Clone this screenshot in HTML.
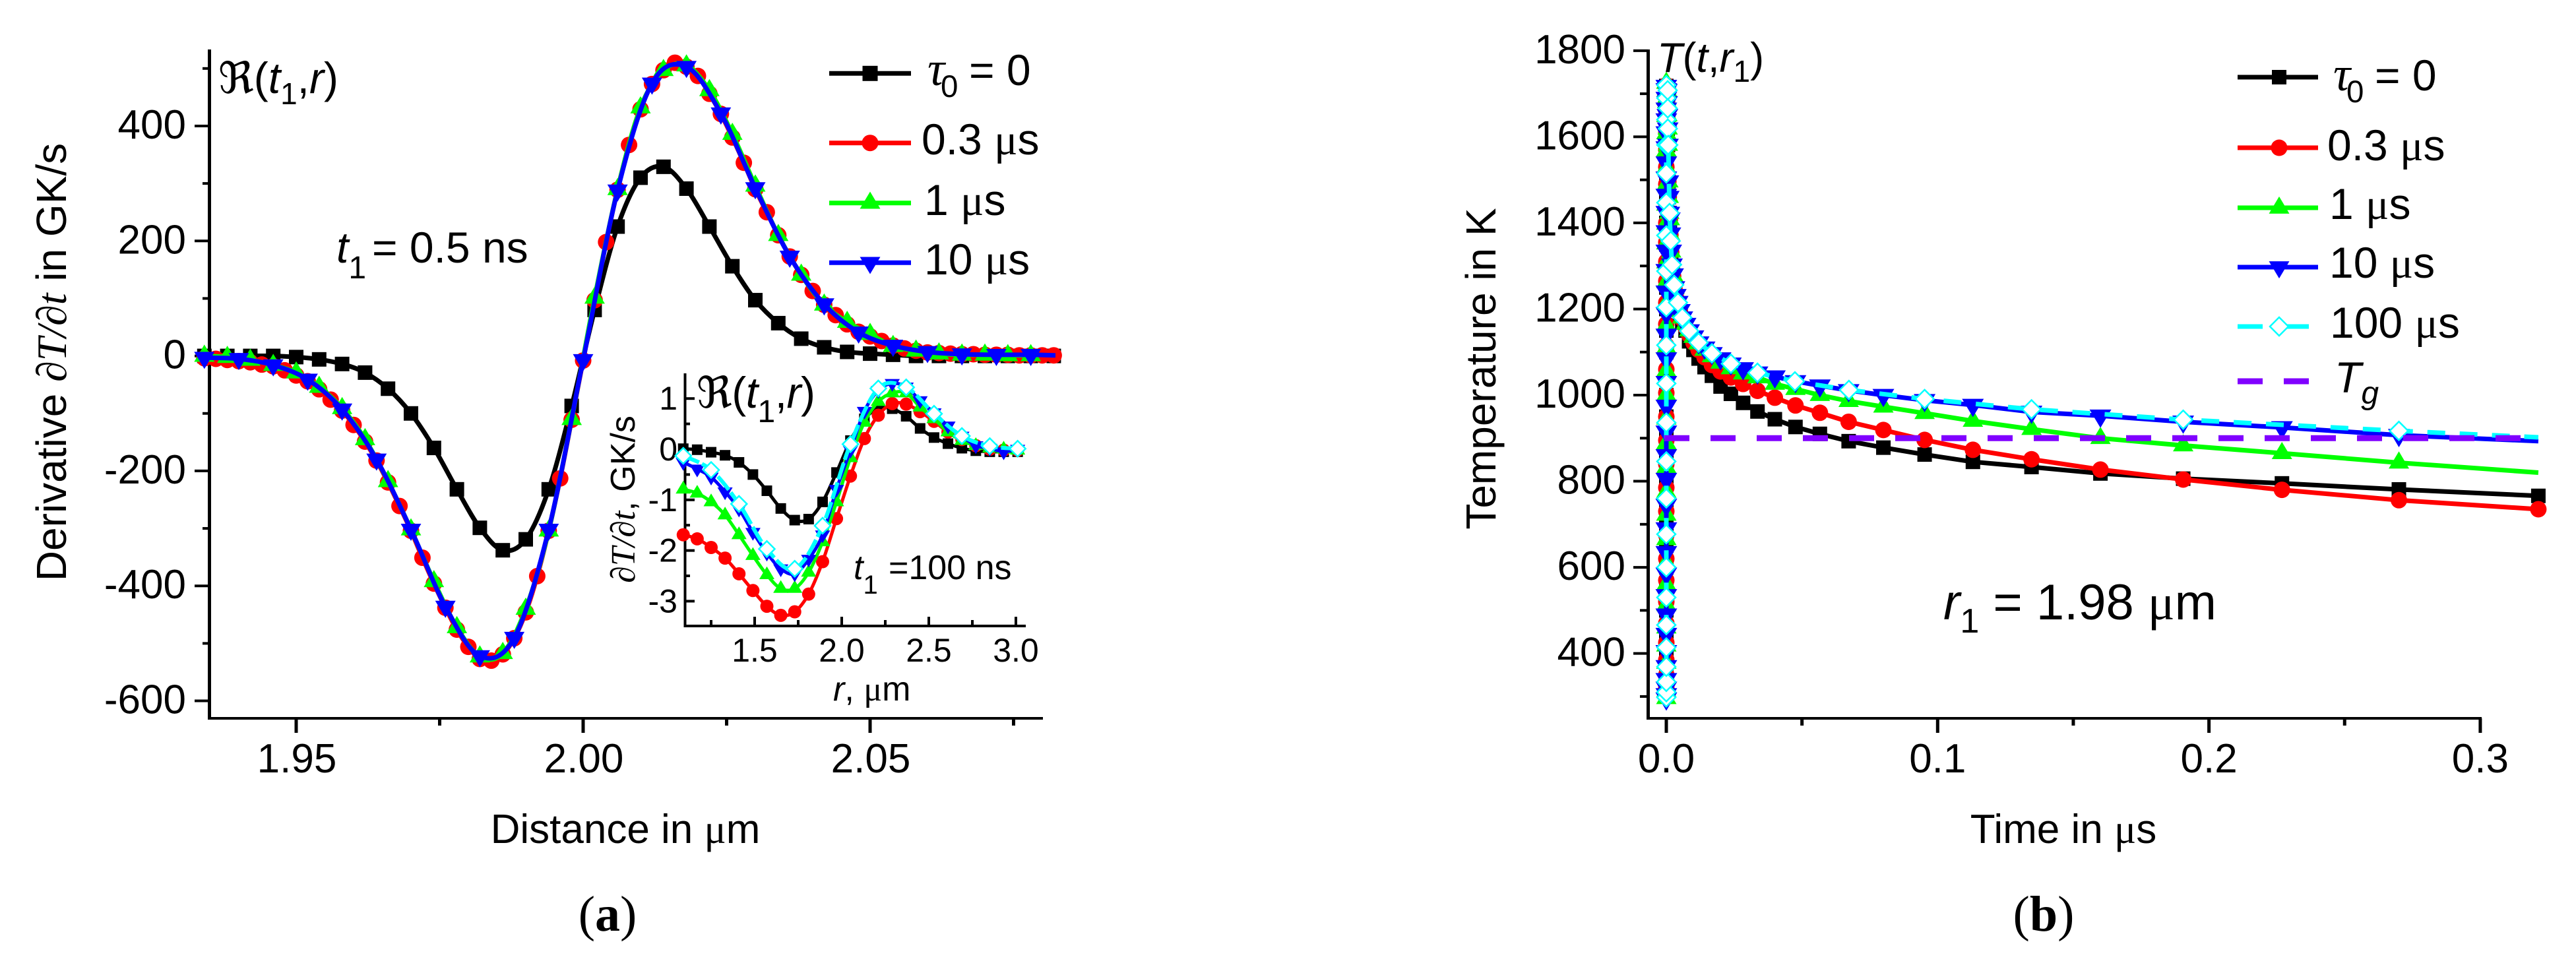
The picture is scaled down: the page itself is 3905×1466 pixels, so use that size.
<!DOCTYPE html>
<html lang="en">
<head>
<meta charset="utf-8">
<title>Derivative and temperature charts</title>
<style>
html,body{margin:0;padding:0;background:#fff;}
svg{display:block;}
text{font-family:"Liberation Sans",sans-serif;fill:#000;}
.it{font-style:italic;}
.sr{font-family:"Liberation Serif",serif;}
.fr{font-family:"DejaVu Serif","Liberation Serif",serif;}
</style>
</head>
<body>
<svg id="fig" xmlns="http://www.w3.org/2000/svg" width="3905" height="1466" viewBox="0 0 3905 1466">
<rect x="0" y="0" width="3905" height="1466" fill="#fff"/>
<g id="layerA"></g>
<g id="layerInset"></g>
<g id="layerB"></g>

<text transform="translate(100,549) rotate(-90)" text-anchor="middle" font-size="64">Derivative <tspan class="sr it">∂T/∂t</tspan> in GK/s</text>
<text x="948" y="1278" text-anchor="middle" font-size="62">Distance in <tspan class="sr">μ</tspan>m</text>
<text x="331" y="141" font-size="66"><tspan class="fr">ℜ</tspan>(<tspan class="it">t</tspan><tspan font-size="46" dy="17">1</tspan><tspan dy="-17">,</tspan><tspan class="it">r</tspan>)</text>
<text x="510" y="398" font-size="66"><tspan class="it">t</tspan><tspan font-size="48" dy="24">1</tspan><tspan x="564" dy="-24">= 0.5 ns</tspan></text>
<text x="921" y="1411" text-anchor="middle" font-size="76" class="sr">(<tspan font-weight="bold">a</tspan>)</text>

<text transform="translate(962,757) rotate(-90)" text-anchor="middle" font-size="52"><tspan class="sr it">∂T/∂t</tspan>, GK/s</text>
<text x="1263" y="1062" font-size="52"><tspan class="it">r</tspan>, <tspan class="sr">μ</tspan>m</text>
<text x="1056" y="618" font-size="66" textLength="180" lengthAdjust="spacing"><tspan class="fr">ℜ</tspan>(<tspan class="it">t</tspan><tspan font-size="48" dy="22">1</tspan><tspan dy="-22">,</tspan><tspan class="it">r</tspan>)</text>
<text x="1294" y="878" font-size="52"><tspan class="it">t</tspan><tspan font-size="40" dy="22">1</tspan><tspan x="1347" dy="-22">=100 ns</tspan></text>

<text transform="translate(2267,559) rotate(-90)" text-anchor="middle" font-size="64">Temperature in K</text>
<text x="3128" y="1278" text-anchor="middle" font-size="62">Time in <tspan class="sr">μ</tspan>s</text>
<text x="2512" y="109" font-size="63"><tspan class="it">T</tspan>(<tspan class="it">t</tspan>,<tspan class="it">r</tspan><tspan font-size="46" dy="15">1</tspan><tspan dy="-15">)</tspan></text>
<text x="2946" y="939" font-size="76"><tspan class="it">r</tspan><tspan font-size="52" dy="20">1</tspan><tspan dy="-20"> = 1.98 </tspan><tspan class="sr">μ</tspan>m</text>
<text x="3098" y="1411" text-anchor="middle" font-size="76" class="sr">(<tspan font-weight="bold">b</tspan>)</text>
</svg>

<script>
// ---------- Panel (a): main axes data ----------
const aTickLabelsY = [400, 200, 0, -200, -400, -600];
const aMinorTicksY = [500, 300, 100, -100, -300, -500];
const aTickLabelsX = ["1.95", "2.00", "2.05"];
const aMinorTicksX = [1.975, 2.025, 2.075];

const aBlackDist = [1.934,1.938,1.942,1.946,1.950,1.954,1.958,1.962,1.966,1.970,1.974,1.978,1.982,1.986,1.990,1.994,1.998,2.002,2.006,2.010,2.014,2.018,2.022,2.026,2.030,2.034,2.038,2.042,2.046,2.050,2.054,2.058,2.062,2.066,2.070,2.074,2.078,2.082];
const aBlackVal = [0,0,0,0,-2,-6,-14,-29,-57,-100,-160,-232,-299,-338,-319,-232,-87,80,225,310,329,291,225,156,97,57,30,15,7,4,2,0,0,0,0,0,0,0];

const aRedDist = [1.934,1.936,1.938,1.940,1.942,1.944,1.946,1.948,1.950,1.952,1.954,1.956,1.958,1.960,1.962,1.964,1.966,1.968,1.970,1.972,1.974,1.976,1.978,1.980,1.982,1.984,1.986,1.988,1.990,1.992,1.994,1.996,1.998,2.000,2.002,2.004,2.006,2.008,2.010,2.012,2.014,2.016,2.018,2.020,2.022,2.024,2.026,2.028,2.030,2.032,2.034,2.036,2.038,2.040,2.042,2.044,2.046,2.048,2.050,2.052,2.054,2.056,2.058,2.060,2.062,2.064,2.066,2.068,2.070,2.072,2.074,2.076,2.078,2.080,2.082];
const aRedVal = [-4,-5,-7,-9,-11,-15,-18,-25,-34,-44,-58,-76,-95,-120,-149,-182,-220,-261,-304,-351,-396,-438,-476,-506,-527,-530,-519,-491,-446,-383,-304,-213,-111,-8,97,198,289,367,429,473,497,510,503,487,456,421,380,336,290,250,210,173,141,113,89,71,55,42,34,26,18,13,9,6,5,4,3,3,2,2,2,1,1,1,1];

const aGreenDist = [1.934,1.938,1.942,1.946,1.950,1.954,1.958,1.962,1.966,1.970,1.974,1.978,1.982,1.986,1.990,1.994,1.998,2.002,2.006,2.010,2.014,2.018,2.022,2.026,2.030,2.034,2.038,2.042,2.046,2.050,2.054,2.058,2.062,2.066,2.070,2.074,2.078];
const aGreenVal = [0,-2,-7,-16,-29,-54,-91,-145,-218,-302,-392,-472,-523,-517,-440,-304,-110,101,290,432,497,505,462,386,296,210,141,89,59,38,17,9,4,2,2,1,1];

const aBlueDist = [1.934,1.940,1.946,1.952,1.958,1.964,1.970,1.976,1.982,1.988,1.994,2.000,2.006,2.012,2.018,2.024,2.030,2.036,2.042,2.048,2.054,2.060,2.066,2.072,2.078,2.0823];
const aBlueVal = [-3,-5,-16,-41,-93,-180,-302,-436,-522,-490,-302,-7,288,474,503,422,292,173,90,41,18,7,3,2,2,1];

// ---------- Panel (a): inset data ----------
const inTickLabelsY = [1, 0, -1, -2, -3];
const inMinorTicksY = [0.5, -0.5, -1.5, -2.5];
const inTickLabelsX = ["1.5", "2.0", "2.5", "3.0"];
const inMinorTicksX = [1.25, 1.75, 2.25, 2.75];

const inDist = [1.09,1.17,1.25,1.33,1.41,1.49,1.57,1.65,1.73,1.81,1.89,1.97,2.05,2.13,2.21,2.29,2.37,2.45,2.53,2.61,2.69,2.77,2.85,2.93,3.01];
const inBlack = [0.01,-0.01,-0.06,-0.12,-0.26,-0.5,-0.82,-1.17,-1.4,-1.38,-1.04,-0.46,0.17,0.6,0.8,0.8,0.65,0.41,0.23,0.11,0.02,-0.03,-0.05,-0.05,-0.05];
const inRed = [-1.69,-1.77,-1.94,-2.15,-2.46,-2.79,-3.1,-3.28,-3.21,-2.86,-2.22,-1.37,-0.53,0.21,0.67,0.9,0.89,0.74,0.55,0.34,0.19,0.07,0,-0.02,-0.02];
const inGreen = [-0.79,-0.87,-1.04,-1.3,-1.69,-2.1,-2.48,-2.75,-2.75,-2.43,-1.83,-1.04,-0.17,0.53,0.94,1.11,1.11,0.83,0.6,0.34,0.17,0.07,0.02,0,-0.02];
const inBlue = [-0.26,-0.39,-0.55,-0.84,-1.18,-1.64,-2.05,-2.36,-2.46,-2.17,-1.69,-0.79,-0.02,0.75,1.16,1.3,1.23,0.96,0.72,0.46,0.26,0.07,0.02,-0.05,0];
const inCyanDist = [1.09,1.25,1.41,1.57,1.73,1.89,2.05,2.21,2.37,2.53,2.69,2.85,3.01];
const inCyan = [-0.13,-0.41,-1.08,-1.97,-2.36,-1.51,0.1,1.2,1.22,0.7,0.26,0.06,0.01];

// ---------- Panel (b) data ----------
const bTickLabelsY = [400,600,800,1000,1200,1400,1600,1800];
const bMinorTicksY = [300,500,700,900,1100,1300,1500,1700];
const bTickLabelsX = ["0.0","0.1","0.2","0.3"];
const bMajorTicksX = [0,0.1,0.2,0.3];
const bMinorTicksX = [0.05,0.15,0.25];
const bGlass = [900];

const bHeatBlack = [300,330,365,405,450,500,550,600,650,700,750,800,850,900,950,1000,1050,1100,1150,1200,1250,1300,1350,1400,1450,1500,1550,1600,1650,1700,1718];
const bHeatRed = [300,320,350,385,425,470,520,570,620,675,730,785,840,895,950,1005,1060,1115,1165,1215,1265,1310,1355,1400,1445,1490,1530,1570,1610,1650,1690,1720];
const bHeatGreen = [296,312,345,378,418,460,512,560,610,665,722,775,832,888,945,1000,1056,1110,1162,1212,1262,1308,1352,1398,1442,1488,1528,1568,1608,1648,1688,1725];
const bHeatBlue = [295,305,320,340,370,405,445,490,535,585,635,690,745,805,860,915,975,1030,1085,1140,1190,1240,1290,1335,1380,1425,1465,1505,1540,1575,1610,1640,1665,1690,1710,1718];
const bHeatCyan = [298,310,334,369,414,466,530,600,677,760,846,936,1027,1116,1204,1288,1371,1447,1515,1581,1640,1690,1720];

const bTime = [0.0002,0.0003,0.0004,0.0005,0.0006,0.00075,0.0009,0.0011,0.0013,0.0015,0.0018,0.0021,0.0025,0.003,0.0035,0.0042,0.005,0.0059,0.0071,0.0084,0.01,0.0119,0.0141,0.0168,0.02,0.0238,0.0283,0.0336,0.04,0.0476,0.0566,0.0672,0.08,0.0952,0.113,0.1346,0.16,0.1905,0.2269,0.27,0.3214];
const bCoolBlack = [1708,1680,1650,1619,1581,1496,1460,1423,1405,1370,1330,1298,1272,1245,1225,1205,1190,1170,1150,1125,1105,1085,1065,1045,1020,1003,982,962,944,926,910,893,878,862,845,833,818,806,795,781,766];
const bCoolRed = [1708,1680,1650,1619,1581,1496,1460,1423,1408,1372,1332,1300,1276,1248,1228,1210,1195,1177,1158,1140,1122,1105,1088,1070,1055,1041,1026,1010,994,976,959,938,919,896,873,851,827,804,780,756,735];
const bCoolGreen = [1708,1680,1650,1619,1581,1496,1460,1423,1408,1372,1333,1301,1278,1248,1230,1213,1195,1180,1165,1150,1135,1120,1105,1090,1075,1062,1050,1041,1026,1014,1000,986,973,958,940,921,900,883,865,843,820];
const bCoolBlue = [1708,1680,1650,1619,1581,1496,1460,1423,1410,1375,1335,1303,1280,1250,1232,1216,1197,1180,1165,1150,1136,1122,1110,1097,1085,1073,1062,1052,1043,1032,1022,1011,1000,988,977,961,952,938,925,907,893];
const bCyanTime = [0.0005,0.00052,0.00055,0.0007,0.0012,0.0016,0.0021,0.0029,0.0043,0.0059,0.0084,0.0119,0.0168,0.0238,0.0336,0.0474,0.0673,0.0952,0.1346,0.1905,0.27,0.3214];
const bCoolCyan = [1708,1666,1619,1581,1423,1358,1303,1256,1215,1180,1149,1122,1097,1073,1052,1032,1012,991,967,943,917,902];

// ---------- Legends ----------
const aLegendLabels = ["τ0 = 0","0.3 μs","1 μs","10 μs"];
const bLegendLabels = ["τ0 = 0","0.3 μs","1 μs","10 μs","100 μs"];

const SVGNS = "http://www.w3.org/2000/svg";
function mk(parent, tag, attrs){
  const e = document.createElementNS(SVGNS, tag);
  for (const k in attrs) e.setAttribute(k, attrs[k]);
  parent.appendChild(e);
  return e;
}
const COLORS = {square:"#000000", circle:"#ff0000", up:"#00ff00", down:"#0000ff", diamond:"#00ffff"};

function drawMarker(g, kind, x, y, s){
  let m;
  if (kind === "square") {
    m = mk(g, "rect", {x:x-s/2, y:y-s/2, width:s, height:s, fill:COLORS.square});
  } else if (kind === "circle") {
    m = mk(g, "circle", {cx:x, cy:y, r:s/2, fill:COLORS.circle});
  } else if (kind === "up") {
    const h = s*0.84;
    m = mk(g, "polygon", {points:`${x},${y-h*0.66} ${x+s/2},${y+h*0.34} ${x-s/2},${y+h*0.34}`, fill:COLORS.up});
  } else if (kind === "down") {
    const h = s*0.84;
    m = mk(g, "polygon", {points:`${x},${y+h*0.66} ${x+s/2},${y-h*0.34} ${x-s/2},${y-h*0.34}`, fill:COLORS.down});
  } else {
    m = mk(g, "polygon", {points:`${x},${y-s/2} ${x+s/2},${y} ${x},${y+s/2} ${x-s/2},${y}`, fill:"#ffffff", stroke:COLORS.diamond, "stroke-width":2.5});
  }
  
  
  return m;
}
function smoothPath(pts){
  let d = `M${pts[0][0]},${pts[0][1]}`;
  for (let i=0;i<pts.length-1;i++){
    const p0=pts[Math.max(i-1,0)],p1=pts[i],p2=pts[i+1],p3=pts[Math.min(i+2,pts.length-1)];
    const c1x=p1[0]+(p2[0]-p0[0])/6,c1y=p1[1]+(p2[1]-p0[1])/6;
    const c2x=p2[0]-(p3[0]-p1[0])/6,c2y=p2[1]-(p3[1]-p1[1])/6;
    d+=`C${c1x.toFixed(1)},${c1y.toFixed(1)} ${c2x.toFixed(1)},${c2y.toFixed(1)} ${p2[0].toFixed(1)},${p2[1].toFixed(1)}`;
  }
  return d;
}
function straightPath(pts){
  return "M"+pts.map(p=>p[0].toFixed(1)+","+p[1].toFixed(1)).join("L");
}
function drawSeries(parent, name, kind, pts, o){
  const g = mk(parent, "g", {});
  
  
  const attrs = {d:o.smooth?smoothPath(pts):straightPath(pts), fill:"none", stroke:COLORS[kind], "stroke-width":o.lw, "stroke-linejoin":"round"};
  if (o.dash) attrs["stroke-dasharray"] = o.dash;
  const line = mk(g, "path", attrs);
  
  
  const mPts = o.markerPts || pts;
  const n = o.skipLast ? mPts.length-1 : mPts.length;
  for (let i=0;i<n;i++) drawMarker(g, kind, mPts[i][0], mPts[i][1], o.size);
}
function axisLine(g,name,x1,y1,x2,y2,w){
  const l = mk(g,"line",{x1:x1,y1:y1,x2:x2,y2:y2,stroke:"#000","stroke-width":w});
  
  
  return l;
}
function label(g,name,x,y,txt,size,anchor){
  const t = mk(g,"text",{x:x,y:y,"font-size":size,"text-anchor":anchor});
  t.textContent = txt;
  
  
  return t;
}
function legendText(g,x,y,txt,size){
  const t = mk(g,"text",{x:x,y:y,"font-size":size});
  
  
  if (txt.charAt(0)==="τ"){
    const a = mk(t,"tspan",{"class":"sr it","font-size":size*1.1}); a.textContent="τ";
    const b = mk(t,"tspan",{"font-size":size*0.72,x:x+20,dy:18}); b.textContent="0";
    const c = mk(t,"tspan",{x:x+63,dy:-18}); c.textContent=txt.slice(3);
  } else {
    const p = txt.split("μ");
    const a = mk(t,"tspan",{}); a.textContent=p[0];
    const b = mk(t,"tspan",{"class":"sr"}); b.textContent="μ";
    const c = mk(t,"tspan",{}); c.textContent=p[1];
  }
}
function zip(xs,ys,fx,fy){ return xs.map((v,i)=>[fx(v),fy(ys[i])]); }

// ---------- Panel (a) ----------
const layerA = document.getElementById("layerA");
const xA = v => 884 + (v-2)*8700;
const yA = v => 539.6 - v*0.8716;
axisLine(layerA,"panel-a-y-axis",317.5,75,317.5,1091,5);
axisLine(layerA,"panel-a-x-axis",315,1089,1581,1089,4);
aTickLabelsY.forEach(v=>{
  axisLine(layerA,"y-tick",295,yA(v),318,yA(v),4);
  label(layerA,"y-tick-label",282,yA(v)+19,String(v),62,"end");
});
aMinorTicksY.forEach(v=>axisLine(layerA,"y-minor-tick",307,yA(v),318,yA(v),4));
aTickLabelsX.forEach(s=>{
  const v = parseFloat(s);
  axisLine(layerA,"x-tick",xA(v),1089,xA(v),1111,5);
  label(layerA,"x-tick-label",xA(v)+1,1171,s,62,"middle");
});
aMinorTicksX.forEach(v=>axisLine(layerA,"x-minor-tick",xA(v),1089,xA(v),1100,5));
drawSeries(layerA,"series-tau-0","square",zip(aBlackDist,aBlackVal,xA,yA),{smooth:true,lw:7,size:22});
drawSeries(layerA,"series-0-3-us","circle",zip(aRedDist,aRedVal,xA,yA),{smooth:true,lw:7,size:25});
drawSeries(layerA,"series-1-us","up",zip(aGreenDist,aGreenVal,xA,yA),{smooth:true,lw:7,size:31});
drawSeries(layerA,"series-10-us","down",zip(aBlueDist,aBlueVal,xA,yA),{smooth:true,lw:7,size:31,skipLast:true});

const aLegendY = [111.3,216.7,307.7,398.3];
const aLegendBase = [129,234,326,416];
const aLegendTextX = [1406,1397,1401,1401];
const legendKinds = ["square","circle","up","down","diamond"];
aLegendLabels.forEach((s,i)=>{
  const g = mk(layerA,"g",{});
  
  
  const k = legendKinds[i];
  mk(g,"line",{x1:1257,y1:aLegendY[i],x2:1381,y2:aLegendY[i],stroke:COLORS[k],"stroke-width":7});
  drawMarker(g,k,1319,aLegendY[i],k==="square"?23:k==="circle"?25:31);
  legendText(g,aLegendTextX[i],aLegendBase[i],s,66);
});

// ---------- Inset ----------
const layerI = document.getElementById("layerInset");
const xI = v => 1144 + (v-1.5)*264;
const yI = v => 681 - v*76.8;
axisLine(layerI,"inset-y-axis",1038.5,566,1038.5,951,4);
axisLine(layerI,"inset-x-axis",1037,949,1555,949,4);
inTickLabelsY.forEach(v=>{
  axisLine(layerI,"inset-y-tick",1038,yI(v),1053,yI(v),4);
  label(layerI,"inset-y-tick-label",1027,yI(v)+17,String(v),50,"end");
});
inMinorTicksY.forEach(v=>axisLine(layerI,"inset-y-minor-tick",1038,yI(v),1046,yI(v),4));
inTickLabelsX.forEach(s=>{
  const v = parseFloat(s);
  axisLine(layerI,"inset-x-tick",xI(v),949,xI(v),935,4);
  label(layerI,"inset-x-tick-label",xI(v),1003,s,50,"middle");
});
inMinorTicksX.forEach(v=>axisLine(layerI,"inset-x-minor-tick",xI(v),949,xI(v),940,4));
drawSeries(layerI,"inset-series-tau-0","square",zip(inDist,inBlack,xI,yI),{smooth:true,lw:5,size:16});
drawSeries(layerI,"inset-series-0-3-us","circle",zip(inDist,inRed,xI,yI),{smooth:true,lw:5,size:20});
drawSeries(layerI,"inset-series-1-us","up",zip(inDist,inGreen,xI,yI),{smooth:true,lw:5,size:23});
drawSeries(layerI,"inset-series-10-us","down",zip(inDist,inBlue,xI,yI),{smooth:true,lw:5,size:23});
drawSeries(layerI,"inset-series-100-us","diamond",zip(inCyanDist,inCyan,xI,yI),{smooth:true,lw:6,size:24,dash:"26 5"});

// ---------- Panel (b) ----------
const layerB = document.getElementById("layerB");
const xB = v => 2526 + v*4113;
const yB = v => 1055.9 - (v-300)*0.6527;
axisLine(layerB,"panel-b-y-axis",2498.5,75,2498.5,1091,5);
axisLine(layerB,"panel-b-x-axis",2496,1089,3762,1089,4);
bTickLabelsY.forEach(v=>{
  axisLine(layerB,"y-tick",2476,yB(v),2498,yB(v),4);
  label(layerB,"y-tick-label",2464,yB(v)+19,String(v),62,"end");
});
bMinorTicksY.forEach(v=>axisLine(layerB,"y-minor-tick",2486,yB(v),2498,yB(v),4));
bMajorTicksX.forEach((v,i)=>{
  axisLine(layerB,"x-tick",xB(v),1089,xB(v),1111,5);
  label(layerB,"x-tick-label",xB(v),1171,bTickLabelsX[i],62,"middle");
});
bMinorTicksX.forEach(v=>axisLine(layerB,"x-minor-tick",xB(v),1089,xB(v),1100,5));

function bPts(heat,time,cool){
  const h = heat.map(v=>[xB(0),yB(v)]);
  const c = time.map((t,i)=>[xB(t),yB(cool[i])]);
  return h.concat(c);
}
drawSeries(layerB,"series-b-tau-0","square",bPts(bHeatBlack,bTime,bCoolBlack),{lw:7,size:22});
drawSeries(layerB,"series-b-0-3-us","circle",bPts(bHeatRed,bTime,bCoolRed),{lw:7,size:25});
drawSeries(layerB,"series-b-1-us","up",bPts(bHeatGreen,bTime,bCoolGreen),{lw:7,size:31,skipLast:true});
drawSeries(layerB,"series-b-10-us","down",bPts(bHeatBlue,bTime,bCoolBlue),{lw:7,size:33,skipLast:true});
drawSeries(layerB,"series-b-100-us","diamond",bPts(bHeatCyan,bCyanTime,bCoolCyan),{lw:7,size:28,dash:"27 22",skipLast:true});

const tg = mk(layerB,"line",{x1:2523,y1:yB(bGlass[0]),x2:3850,y2:yB(bGlass[0]),stroke:"#8000ff","stroke-width":9,"stroke-dasharray":"38 32"});



const bLegendY = [117,224,315,405,495];
const bLegendBase = [137,243,332,421,512];
const bLegendTextX = [3537,3528,3531,3531,3532];
bLegendLabels.forEach((s,i)=>{
  const g = mk(layerB,"g",{});
  
  
  const k = legendKinds[i];
  const a = {x1:3392,y1:bLegendY[i],x2:3514,y2:bLegendY[i],stroke:COLORS[k],"stroke-width":7};
  if (k==="diamond") a["stroke-dasharray"]="38 32";
  mk(g,"line",a);
  drawMarker(g,k,3455,bLegendY[i],k==="square"?22:k==="circle"?25:k==="diamond"?28:31);
  legendText(g,bLegendTextX[i],bLegendBase[i],s,66);
});
const tgLeg = mk(layerB,"g",{});


mk(tgLeg,"line",{x1:3392,y1:578,x2:3502,y2:578,stroke:"#8000ff","stroke-width":9,"stroke-dasharray":"38 32"});
const tgT = mk(tgLeg,"text",{x:3539,y:595,"font-size":66,"class":"it"});
tgT.textContent = "T";
const tgS = mk(tgT,"tspan",{"font-size":48,dy:17});
tgS.textContent = "g";
</script>
</body>
</html>
